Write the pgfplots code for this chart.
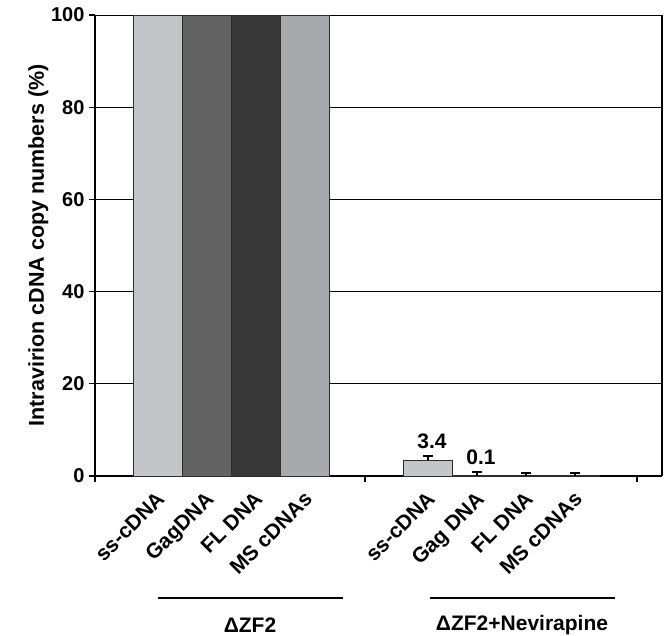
\documentclass[border=0pt]{standalone}
\usepackage{fontspec}
\setmainfont{Liberation Sans}
\usepackage{pgfplots}
\pgfplotsset{compat=1.18}
\definecolor{cA}{RGB}{196,197,201}
\definecolor{cB}{RGB}{99,99,99}
\definecolor{cC}{RGB}{56,56,56}
\definecolor{cD}{RGB}{168,169,173}
\definecolor{edge}{RGB}{45,45,45}
\begin{document}
\begin{tikzpicture}[font=\fontsize{21}{24}\selectfont\bfseries]
\begin{axis}[
  name=ax,
  scale only axis,
  width=567pt, height=461pt,
  xmin=0, xmax=567, ymin=0, ymax=100,
  clip=false,
  axis x line*=bottom, axis y line*=left,
  axis line style={line width=2pt, black},
  ytick={0,20,40,60,80,100},
  ymajorgrids, grid style={black, line width=0.7pt},
  xtick={0,270,542}, xticklabels={},
  tick style={black, line width=1.2pt},
  tick align=outside, major tick length=6pt,
  /pgf/number format/assume math mode=true,
  yticklabel style={font=\fontsize{20}{22}\selectfont\bfseries, xshift=-1pt},
  extra x ticks={62.5,111.5,160.5,210,333,382,431,480},
  extra x tick labels={ss-cDNA,GagDNA,FL DNA,MS cDNAs,ss-cDNA,Gag DNA,FL DNA,MS cDNAs},
  extra x tick style={major tick length=0pt, grid=none,
    tick label style={xshift=-2pt, yshift=-14pt, rotate=45, anchor=north east, inner sep=0pt,
    font=\fontsize{21}{24}\selectfont\bfseries}},
  ylabel={Intravirion cDNA copy numbers (\%)},
  ylabel style={font=\fontsize{21.5}{24}\selectfont\bfseries, yshift=-4pt},
  ybar, bar width=49,
  every axis plot/.append style={draw=edge, line width=0.8pt, bar shift=0pt},
  error bars/y dir=plus, error bars/y explicit,
  error bars/error mark options={rotate=90, mark size=5pt, line width=1.5pt, black},
  error bars/error bar style={line width=1.5pt, black},
]
\addplot[fill=cA] coordinates {(62.5,100)};
\addplot[fill=cB] coordinates {(111.5,100)};
\addplot[fill=cC] coordinates {(160.5,100)};
\addplot[fill=cD] coordinates {(210,100)};
\addplot[fill=cA] coordinates {(333,3.4) +- (0,0.9)};
\addplot[fill=cB] coordinates {(382,0.1) +- (0,0.8)};
\addplot[fill=cC] coordinates {(431,0.1) +- (0,0.5)};
\addplot[fill=cD] coordinates {(480,0.1) +- (0,0.5)};
\node[anchor=base] at (axis cs:337,6.0) {3.4};
\node[anchor=base] at (axis cs:386,2.6) {0.1};
\draw[line width=1.5pt] (axis cs:63,-26.5) -- (axis cs:248,-26.5);
\draw[line width=1.5pt] (axis cs:335,-26.5) -- (axis cs:520,-26.5);
\node[inner sep=0pt] at (axis cs:155,-32.3) {ΔZF2};
\node[inner sep=0pt] at (axis cs:427,-32.3) {ΔZF2+Nevirapine};
\draw[line width=2pt] (rel axis cs:1,0) -- (rel axis cs:1,1);
\end{axis}
\pgfresetboundingbox
\path[use as bounding box] ([xshift=-95pt,yshift=-160pt]ax.south west) rectangle ([xshift=3pt,yshift=15pt]ax.north east);
\end{tikzpicture}
\end{document}
